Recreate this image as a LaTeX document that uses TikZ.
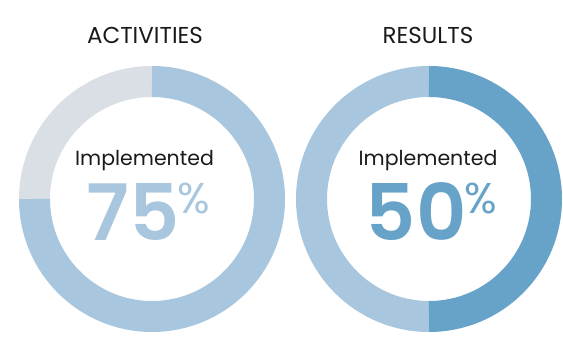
\documentclass[tikz,border=0pt]{standalone}
\usepackage{fontspec}
\setmainfont{Poppins}
\newfontfamily\numfont{Poppins SemiBold}
\usetikzlibrary{calc}

\definecolor{ringlight}{HTML}{A8C7DE}
\definecolor{ringdark}{HTML}{67A3C8}
\definecolor{ringgrey}{HTML}{D9DFE4}
\definecolor{inktext}{HTML}{1A1A1A}

\newcommand{\pct}[1]{{\numfont\fontsize{78}{78}\selectfont #1}\kern-2pt\raisebox{27pt}{\fontsize{43}{43}\selectfont\%}}

\begin{document}
\begin{tikzpicture}[x=1pt,y=1pt,inner sep=0pt,outer sep=0pt,
	ring/.style={line width=31pt},
	title/.style={anchor=base,text=inktext,font=\fontsize{23}{23}\selectfont},
	label/.style={anchor=base,text=inktext,font=\fontsize{20.5}{20.5}\selectfont}]
	\useasboundingbox (0,0) rectangle (563,338);
	\coordinate (act) at (152,139) ;
	\coordinate (res) at (429,139) ;
	% activities ring
	\draw[ring,ringgrey]  ($(act)+(90:117.5)$) arc[start angle=90,end angle=180,radius=117.5] ;
	\draw[ring,ringlight] ($(act)+(90:117.5)$) arc[start angle=90,end angle=-180,radius=117.5] ;
	% results ring
	\draw[ring,ringlight] ($(res)+(90:117.5)$) arc[start angle=90,end angle=270,radius=117.5] ;
	\draw[ring,ringdark]  ($(res)+(90:117.5)$) arc[start angle=90,end angle=-90,radius=117.5] ;
	% texts
	\node[title] (actt) at ($(act)+(-7,155)$) {ACTIVITIES} ;
	\node[title] (rest) at ($(res)+(-1,155)$) {RESULTS} ;
	\node[label] (acti) at ($(act)+(-7.5,33)$) {Implemented} ;
	\node[label] (resi) at ($(res)+(-1,33)$) {Implemented} ;
	\node[anchor=base,text=ringlight] (actp) at ($(act)+(-3.5,-41)$) {\pct{75}} ;
	\node[anchor=base,text=ringdark]  (resp) at ($(res)+(2.5,-41)$) {\pct{50}} ;
\end{tikzpicture}
\end{document}
